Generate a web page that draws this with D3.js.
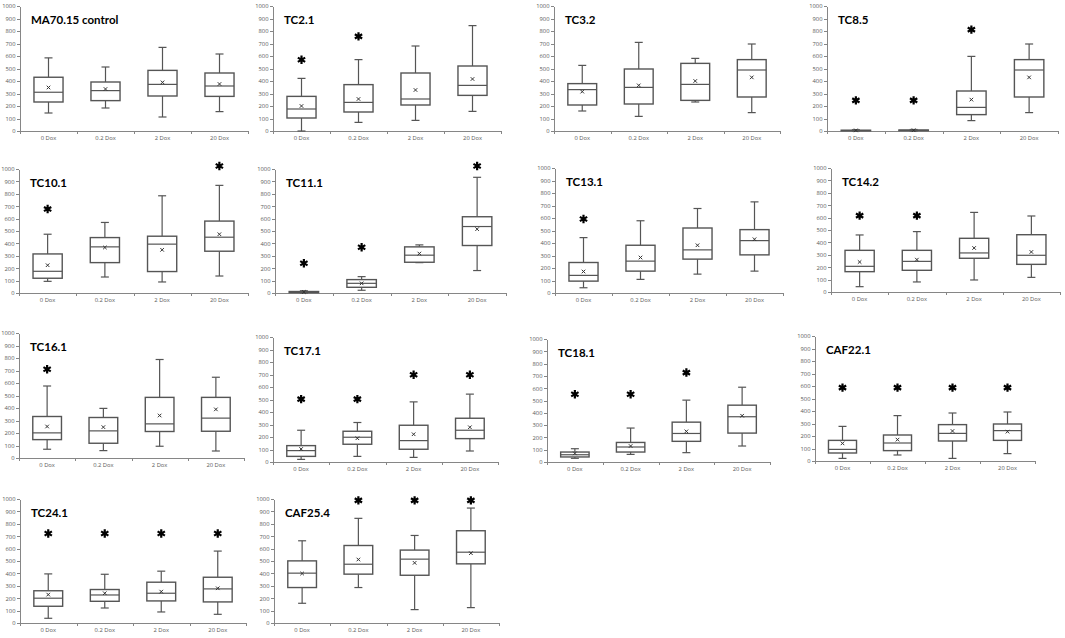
<!DOCTYPE html>
<html>
<head>
<meta charset="utf-8">
<script src="https://cdn.jsdelivr.net/npm/d3@7"></script>
<style>
  body { margin: 0; background: #fff; }
  .axis path, .axis line { stroke: #868686; shape-rendering: crispEdges; }
  .axis text { fill: #595959; font-family: "Open Sans", sans-serif; font-size: 5.8px; }
  .title { font-family: Lato, sans-serif; font-weight: bold; font-size: 11.5px; fill: #000; }
</style>
</head>
<body>
<script>
// categories (x) and panel titles
var categories = ["0 Dox", "0.2 Dox", "2 Dox", "20 Dox"];
var panelNames = ["MA70.15 control", "TC2.1", "TC3.2", "TC8.5",
                  "TC10.1", "TC11.1", "TC13.1", "TC14.2",
                  "TC16.1", "TC17.1", "TC18.1", "CAF22.1",
                  "TC24.1", "CAF25.4"];

// each row: [min, q1, median, q3, max, mean] for 0, 0.2, 2, 20 Dox
var ma7015 = [[144, 232, 310, 430, 585, 348], [184, 243, 323, 392, 512, 336], [112, 280, 373, 485, 669, 389], [155, 277, 360, 464, 616, 376]];
var tc21   = [[0, 104, 176, 277, 421, 200], [69, 152, 229, 371, 571, 256], [85, 208, 256, 464, 680, 328], [157, 285, 365, 520, 843, 416]];
var tc32   = [[160, 208, 331, 379, 525, 315], [117, 216, 349, 496, 709, 365], [232, 245, 373, 541, 581, 400], [147, 272, 488, 571, 696, 429]];
var tc85   = [[0, 2, 4, 6, 10, 5], [0, 3, 5, 8, 12, 6], [83, 131, 189, 320, 597, 251], [147, 272, 488, 571, 696, 429]];
var tc101  = [[94, 119, 175, 315, 474, 224], [129, 245, 372, 447, 569, 367], [89, 173, 394, 458, 784, 348], [137, 337, 450, 580, 868, 474]];
var tc111  = [[0, 3, 6, 12, 18, 8], [22, 46, 78, 108, 132, 78], [245, 248, 305, 372, 388, 318], [181, 383, 536, 615, 933, 515]];
var tc131  = [[42, 95, 141, 244, 443, 172], [109, 175, 255, 382, 578, 284], [151, 271, 345, 520, 676, 382], [175, 305, 419, 507, 729, 430]];
var tc142  = [[43, 164, 207, 336, 460, 242], [81, 175, 247, 336, 487, 261], [97, 272, 315, 433, 642, 355], [118, 223, 296, 462, 613, 323]];
var tc161  = [[70, 147, 201, 332, 576, 252], [59, 118, 217, 324, 397, 247], [94, 212, 273, 485, 788, 340], [56, 214, 319, 485, 646, 389]];
var tc171  = [[21, 45, 91, 131, 254, 104], [45, 142, 198, 246, 316, 190], [37, 102, 171, 294, 481, 222], [88, 187, 254, 350, 543, 278]];
var tc181  = [[30, 41, 59, 81, 108, 70], [62, 81, 122, 159, 276, 130], [76, 168, 232, 324, 503, 249], [130, 235, 368, 462, 608, 376]];
var caf221 = [[21, 64, 93, 165, 277, 141], [48, 83, 144, 208, 363, 171], [21, 160, 221, 291, 384, 240], [59, 165, 243, 296, 392, 235]];
var tc241  = [[38, 135, 200, 260, 396, 229], [121, 175, 226, 270, 393, 240], [89, 178, 240, 329, 418, 253], [70, 170, 275, 369, 580, 280]];
var caf254 = [[159, 286, 402, 501, 663, 399], [286, 394, 474, 625, 844, 512], [108, 385, 515, 588, 706, 485], [124, 477, 571, 744, 927, 563]];

// significance asterisks: value where the * sits, null = none
var stars = [
    [null, null, null, null],
    [570, 757, null, null],
    [null, null, null, null],
    [245, 245, 811, null],
    [677, null, null, 1024],
    [240, 369, null, 1024],
    [592, null, null, null],
    [616, 616, null, null],
    [710, null, null, null],
    [503, 503, 698, 698],
    [551, 551, 727, null],
    [587, 587, 587, 587],
    [722, 722, 722, 722],
    [null, 989, 989, 989]
];

var panelStats = [ma7015, tc21, tc32, tc85, tc101, tc111, tc131, tc142,
                  tc161, tc171, tc181, caf221, tc241, caf254];

// panel placement: [left, width, y of 0, y of 1000]
var layout = [
    [20, 228, 131, 6], [273, 228, 131, 6], [554, 226, 131, 6], [827, 231, 131, 6],
    [19, 229, 293, 169], [275, 231, 293, 169], [555, 228, 293, 168], [831, 229, 292, 168],
    [19, 225, 458, 333], [273, 225, 462, 337], [547, 223, 462, 339], [815, 220, 461, 336],
    [20, 226, 623, 499], [274, 225, 623, 499]
];

var svg = d3.select("body").append("svg")
    .attr("width", 1065)
    .attr("height", 638);

var boxStroke = "#555555";

panelNames.forEach(function (name, i) {
    var L = layout[i],
        w = L[1];

    var g = svg.append("g")
        .attr("transform", "translate(" + L[0] + ",0)");

    var x = d3.scaleBand().domain(categories).range([0, w]),
        y = d3.scaleLinear().domain([0, 1000]).range([L[2], L[3]]),
        xb = d3.scaleLinear().domain([0, 4]).range([0, w]);

    g.append("g")
        .attr("class", "axis")
        .call(d3.axisLeft(y)
            .tickValues(d3.range(0, 1001, 100))
            .tickFormat(d3.format("d"))
            .tickSize(3).tickSizeOuter(0).tickPadding(1.5));

    // x axis line with ticks between categories
    g.append("g")
        .attr("class", "axis")
        .attr("transform", "translate(0," + L[2] + ")")
        .call(d3.axisBottom(xb).ticks(4).tickSize(3).tickSizeOuter(0).tickFormat(""));

    var xl = g.append("g")
        .attr("class", "axis")
        .attr("transform", "translate(0," + L[2] + ")")
        .call(d3.axisBottom(x).tickSize(0).tickPadding(5));
    xl.select(".domain").remove();

    g.append("text")
        .attr("class", "title")
        .attr("x", 11)
        .attr("y", L[3] + 18)
        .text(name);

    var data = panelStats[i].map(function (s, j) {
        return {cat: categories[j], s: s, star: stars[i][j]};
    });

    var bw = x.bandwidth() * 0.51,
        cap = 8;

    var box = g.selectAll(".box")
        .data(data)
        .enter().append("g")
        .attr("class", "box")
        .attr("transform", d => "translate(" + (x(d.cat) + x.bandwidth() / 2) + ",0)");

    // whiskers
    box.append("line")
        .attr("y1", d => y(d.s[0])).attr("y2", d => y(d.s[1]))
        .attr("stroke", boxStroke).attr("stroke-width", 1.2);
    box.append("line")
        .attr("y1", d => y(d.s[3])).attr("y2", d => y(d.s[4]))
        .attr("stroke", boxStroke).attr("stroke-width", 1.2);
    box.append("line")
        .attr("x1", -cap / 2).attr("x2", cap / 2)
        .attr("y1", d => y(d.s[0])).attr("y2", d => y(d.s[0]))
        .attr("stroke", boxStroke).attr("stroke-width", 1.2);
    box.append("line")
        .attr("x1", -cap / 2).attr("x2", cap / 2)
        .attr("y1", d => y(d.s[4])).attr("y2", d => y(d.s[4]))
        .attr("stroke", boxStroke).attr("stroke-width", 1.2);

    box.append("rect")
        .attr("x", -bw / 2)
        .attr("width", bw)
        .attr("y", d => y(d.s[3]))
        .attr("height", d => Math.max(0.5, y(d.s[1]) - y(d.s[3])))
        .attr("fill", "#fff")
        .attr("stroke", boxStroke)
        .attr("stroke-width", 1.4);

    box.append("line")
        .attr("x1", -bw / 2).attr("x2", bw / 2)
        .attr("y1", d => y(d.s[2])).attr("y2", d => y(d.s[2]))
        .attr("stroke", boxStroke).attr("stroke-width", 1.2);

    // mean
    box.append("path")
        .attr("transform", d => "translate(0," + y(d.s[5]) + ")")
        .attr("d", d3.symbol(d3.symbolTimes, 10))
        .attr("fill", "none")
        .attr("stroke", "#333")
        .attr("stroke-width", 1);

    box.filter(d => d.star !== null)
        .append("path")
        .attr("transform", d => "translate(0," + y(d.star) + ")")
        .attr("d", d3.symbol(d3.symbolAsterisk, 50))
        .attr("fill", "none")
        .attr("stroke", "#000")
        .attr("stroke-width", 2.2);
});
</script>
</body>
</html>
